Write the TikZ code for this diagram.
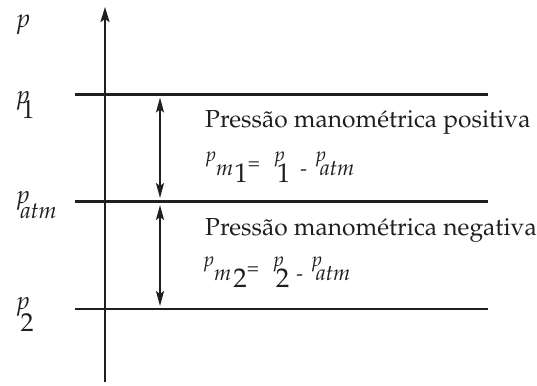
\documentclass[tikz,border=0pt]{standalone}
\usepackage[T1]{fontenc}
\usepackage{mathpazo}
\usetikzlibrary{arrows.meta}
\newcommand\fsz[1]{\fontsize{#1}{#1}\selectfont}
\begin{document}
\begin{tikzpicture}[x=1pt,y=-1pt,
  line/.style={line width=2.2pt, color=black!88},
  axisarrow/.style={line width=2.2pt, color=black!88, -{Stealth[length=15pt,width=9pt,inset=3pt]}},
  dblarrow/.style={line width=2pt, color=black!88, {Stealth[length=15pt,width=8pt,inset=3pt]}-{Stealth[length=15pt,width=8pt,inset=3pt]}},
  lab/.style={inner sep=0pt, anchor=base west, text=black!88}]
\useasboundingbox (0,0) rectangle (537,385);
% axis
\coordinate (axb) at (105,382);
\coordinate (axt) at (105,7);
\draw[axisarrow] (axb) -- (axt);
% horizontal lines
\coordinate (l1a) at (75,94.5);  \coordinate (l1b) at (488,94.5);
\coordinate (l2a) at (75,201.5); \coordinate (l2b) at (488,201.5);
\coordinate (l3a) at (75,309);   \coordinate (l3b) at (488,309);
\draw[line] (l1a) -- (l1b);
\draw[line] (l2a) -- (l2b);
\draw[line] (l3a) -- (l3b);
% double arrows
\coordinate (a1t) at (160,97.5);  \coordinate (a1b) at (160,198);
\coordinate (a2t) at (160,205);   \coordinate (a2b) at (160,306);
\draw[dblarrow] (a1t) -- (a1b);
\draw[dblarrow] (a2t) -- (a2b);
% left labels
\node[lab] (lp) at (17,28) {\fsz{26}\itshape p};
\node[lab] (lp1) at (17,118) {{\fsz{25}\itshape\raisebox{15pt}{p}}\kern-8pt{\fsz{26}1}};
\node[lab] (lpatm) at (17,218) {{\fsz{25}\itshape\raisebox{15pt}{p}}\kern-9pt{\fsz{23}\itshape atm}};
\node[lab] (lp2) at (17,331) {{\fsz{25}\itshape\raisebox{22pt}{p}}\kern-9pt{\fsz{26}2}};
% texts
\node[lab] (t1) at (205,127) {\fsz{24.6}Pressão manométrica positiva};
\node[lab] (t2) at (205,235) {\fsz{24.6}Pressão manométrica negativa};
% formulas
\node[lab] (f1) at (206,182) {{\fsz{20}\itshape\raisebox{21pt}{p}}{\fsz{22}\itshape\raisebox{7pt}{m}}\hspace{1pt}{\fsz{27}1}{\fsz{20}\raisebox{13pt}{=}}\hspace{15pt}{\fsz{20}\itshape\raisebox{21pt}{p}}\kern-8pt{\fsz{27}1}\hspace{10pt}{\fsz{20}\raisebox{7pt}{-}}\hspace{9pt}{\fsz{20}\itshape\raisebox{21pt}{p}}\kern-6pt{\fsz{22}\itshape\raisebox{7pt}{atm}}};
\node[lab] (f2) at (204,287) {{\fsz{20}\itshape\raisebox{21pt}{p}}{\fsz{22}\itshape\raisebox{7pt}{m}}\hspace{2pt}{\fsz{27}2}{\fsz{20}\raisebox{13pt}{=}}\hspace{15pt}{\fsz{20}\itshape\raisebox{21pt}{p}}\kern-8pt{\fsz{27}2}\hspace{7pt}{\fsz{20}\raisebox{7pt}{-}}\hspace{9pt}{\fsz{20}\itshape\raisebox{21pt}{p}}\kern-6pt{\fsz{22}\itshape\raisebox{7pt}{atm}}};
\end{tikzpicture}
\end{document}
